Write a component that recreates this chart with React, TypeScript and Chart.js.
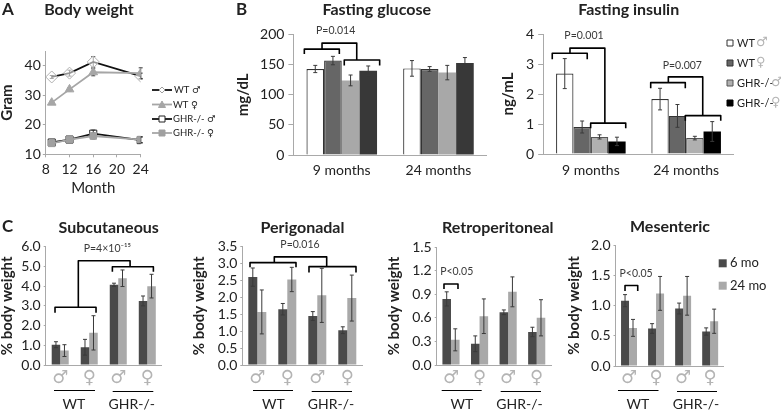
import React, { useEffect, useRef } from "react";
import { Chart, registerables } from "chart.js";

Chart.register(...registerables);

// ---------- data ----------
const months = [9, 12, 16, 24];
const wtMale = [36.2, 37.5, 41.3, 36.5];
const wtMaleErr = [0.5, 1, 1.8, 1];
const wtFemale = [27.5, 32, 37.8, 37.5];
const wtFemaleErr = [0.5, 0.5, 1.2, 1.8];
const ghrMale = [14, 15, 17, 14.8];
const ghrMaleErr = [0.5, 0.5, 1.2, 1];
const ghrFemale = [13.7, 15, 16.2, 15];
const ghrFemaleErr = [0.5, 0.8, 1, 1];

const fastingGroups = ["9 months", "24 months"];
const glucoseWtM = [143, 144];
const glucoseWtF = [157, 143];
const glucoseGhrM = [124, 137];
const glucoseGhrF = [140, 153];
const glucoseErrWtM = [6, 13];
const glucoseErrWtF = [7, 4];
const glucoseErrGhrM = [9, 12];
const glucoseErrGhrF = [8, 9];

const insulinWtM = [2.68, 1.83];
const insulinWtF = [0.9, 1.27];
const insulinGhrM = [0.57, 0.53];
const insulinGhrF = [0.42, 0.75];
const insulinErrWtM = [0.5, 0.36];
const insulinErrWtF = [0.2, 0.38];
const insulinErrGhrM = [0.07, 0.06];
const insulinErrGhrF = [0.14, 0.33];

const sexLabels = ["♂", "♀", "♂", "♀"];
const subQ6 = [1.03, 0.9, 4.07, 3.25];
const subQ24 = [0.73, 1.63, 4.4, 4.0];
const subQ6Err = [0.15, 0.4, 0.08, 0.25];
const subQ24Err = [0.3, 0.87, 0.42, 0.6];
const periG6 = [2.6, 1.65, 1.45, 1.03];
const periG24 = [1.57, 2.53, 2.06, 1.98];
const periG6Err = [0.27, 0.17, 0.13, 0.1];
const periG24Err = [0.65, 0.36, 0.8, 0.68];
const retro6 = [0.84, 0.27, 0.67, 0.42];
const retro24 = [0.32, 0.62, 0.93, 0.6];
const retro6Err = [0.09, 0.1, 0.03, 0.06];
const retro24Err = [0.14, 0.22, 0.19, 0.23];
const mes6 = [1.08, 0.62, 0.95, 0.57];
const mes24 = [0.63, 1.2, 1.16, 0.74];
const mes6Err = [0.1, 0.08, 0.09, 0.06];
const mes24Err = [0.14, 0.28, 0.32, 0.2];

// ---------- style helpers ----------
const SANS = "Lato, 'DejaVu Sans', sans-serif";
const GLYPH = "'DejaVu Sans', sans-serif";
const AXIS = "#a9a9a9";
const INK = "#222222";
const SOFT = "#3a3a3a";
const GREY_GLYPH = "#b4b4b4";

type Txt = { x: number; y: number; s: string; font: string; color?: string; align?: CanvasTextAlign };
// Bracket: category-fraction x0,x1; value yTop, left leg end, right leg end
type Bracket = [number, number, number, number, number];
// Data-anchored note: category fraction, value, string
type Note = [number, number, string];

const titleFont = `bold 16px ${SANS}`;
const letterFont = `bold 17px ${SANS}`;

function drawErrors(chart: any, p: any) {
  const ctx: CanvasRenderingContext2D = chart.ctx;
  const ys = chart.scales.y;
  ctx.save();
  ctx.strokeStyle = p.errColor || SOFT;
  ctx.lineWidth = 1;
  chart.data.datasets.forEach((ds: any, i: number) => {
    if (!ds.err) return;
    const cap = ds.errCap ?? 2;
    chart.getDatasetMeta(i).data.forEach((el: any, j: number) => {
      const v = p.line ? ds.data[j].y : ds.data[j];
      const top = ys.getPixelForValue(v + ds.err[j]);
      const bot = ys.getPixelForValue(v - ds.err[j]);
      ctx.beginPath();
      ctx.moveTo(el.x, top);
      ctx.lineTo(el.x, bot);
      ctx.moveTo(el.x - cap, top);
      ctx.lineTo(el.x + cap, top);
      ctx.moveTo(el.x - cap, bot);
      ctx.lineTo(el.x + cap, bot);
      ctx.stroke();
    });
  });
  ctx.restore();
}

function makeOverlay(p: any) {
  return {
    id: "overlay",
    beforeDatasetsDraw(chart: any) {
      if (p.line) drawErrors(chart, p);
    },
    afterDatasetsDraw(chart: any) {
      if (!p.line) drawErrors(chart, p);
      const ctx: CanvasRenderingContext2D = chart.ctx;
      const ys = chart.scales.y;
      const xs = chart.scales.x;
      ctx.save();
      const catX = (f: number) => xs.left + ((f + 0.5) * xs.width) / xs.ticks.length;
      // brackets
      ctx.strokeStyle = "#000";
      ctx.lineWidth = 1.6;
      ctx.lineJoin = "round";
      (p.brackets || []).forEach((b: Bracket) => {
        ctx.beginPath();
        ctx.moveTo(catX(b[0]), ys.getPixelForValue(b[3]));
        ctx.lineTo(catX(b[0]), ys.getPixelForValue(b[2]));
        ctx.lineTo(catX(b[1]), ys.getPixelForValue(b[2]));
        ctx.lineTo(catX(b[1]), ys.getPixelForValue(b[4]));
        ctx.stroke();
      });
      // significance notes
      ctx.textAlign = "center";
      ctx.textBaseline = "middle";
      ctx.fillStyle = SOFT;
      ctx.font = `10.5px ${SANS}`;
      (p.notes || []).forEach((n: Note) => {
        ctx.fillText(n[2], catX(n[0]), ys.getPixelForValue(n[1]));
      });
      // page-positioned text, rules and keys
      ctx.translate(-p.rect[0], -p.rect[1]);
      (p.texts || []).forEach((t: Txt) => {
        ctx.font = t.font;
        ctx.fillStyle = t.color || INK;
        ctx.textAlign = t.align || "center";
        ctx.fillText(t.s, t.x, t.y);
      });
      ctx.strokeStyle = "#000";
      ctx.lineWidth = 1;
      (p.rules || []).forEach((r: number[]) => {
        ctx.beginPath();
        ctx.moveTo(r[0], r[2]);
        ctx.lineTo(r[1], r[2]);
        ctx.stroke();
      });
      (p.swatches || []).forEach((s: any) => {
        ctx.fillStyle = s.fill;
        ctx.fillRect(s.x, s.y, s.size, s.size);
        if (s.stroke) {
          ctx.strokeStyle = s.stroke;
          ctx.lineWidth = 1;
          ctx.strokeRect(s.x, s.y, s.size, s.size);
        }
      });
      (p.lineKeys || []).forEach((k: any) => {
        ctx.strokeStyle = k.color;
        ctx.lineWidth = 1.8;
        ctx.beginPath();
        ctx.moveTo(k.x0, k.y);
        ctx.lineTo(k.x1, k.y);
        ctx.stroke();
        const cx = (k.x0 + k.x1) / 2;
        ctx.fillStyle = k.fill;
        ctx.strokeStyle = k.stroke;
        ctx.lineWidth = 1;
        ctx.beginPath();
        if (k.shape === "diamond") {
          ctx.moveTo(cx - 3, k.y); ctx.lineTo(cx, k.y - 3); ctx.lineTo(cx + 3, k.y); ctx.lineTo(cx, k.y + 3); ctx.closePath();
        } else if (k.shape === "triangle") {
          ctx.moveTo(cx - 3.5, k.y + 3); ctx.lineTo(cx, k.y - 3.5); ctx.lineTo(cx + 3.5, k.y + 3); ctx.closePath();
        } else {
          ctx.rect(cx - 3, k.y - 3, 6, 6);
        }
        ctx.fill();
        ctx.stroke();
      });
      ctx.restore();
    },
  };
}

function PanelChart({ p }: { p: any }) {
  const ref = useRef<HTMLCanvasElement>(null);
  useEffect(() => {
    const [rx, ry, rw, rh] = p.rect;
    const [l, t, r, b] = p.plot;
    const chart = new Chart(ref.current!, {
      type: p.line ? "line" : "bar",
      data: { labels: p.line ? undefined : p.labels, datasets: p.datasets },
      plugins: [makeOverlay(p)],
      options: {
        animation: false,
        responsive: false,
        layout: { padding: { left: 0, top: t - ry, right: rx + rw - r, bottom: 0 } },
        plugins: { legend: { display: false }, title: { display: false }, tooltip: { enabled: false } },
        scales: {
          x: {
            type: p.line ? "linear" : "category",
            min: p.line ? 8 : undefined,
            max: p.line ? 24 : undefined,
            grid: { drawOnChartArea: false, drawTicks: !!p.line, tickLength: 3, color: AXIS },
            border: { color: AXIS, width: 1 },
            ticks: {
              ...(p.line ? { stepSize: 4 } : {}),
              autoSkip: false,
              maxRotation: 0,
              padding: p.xPad ?? 5,
              color: p.xColor || INK,
              font: { family: p.xFamily || SANS, size: p.xSize || 14 },
            },
            title: p.xTitle
              ? { display: true, text: p.xTitle, color: INK, padding: 0, font: { family: SANS, size: 15, lineHeight: 1 } }
              : { display: false },
            afterFit: (s: any) => { s.height = ry + rh - b; },
          },
          y: {
            min: p.yMin,
            max: p.yMax,
            grid: { drawOnChartArea: false, drawTicks: true, tickLength: p.yTick ?? 5, color: AXIS },
            border: { color: AXIS, width: 1 },
            afterBuildTicks: (s: any) => {
              s.ticks = s.ticks.filter((k: any) => !p.yTicksMax || k.value <= p.yTicksMax);
            },
            ticks: {
              stepSize: p.yStep,
              autoSkip: false,
              padding: p.yPad ?? 4,
              color: INK,
              font: { family: SANS, size: 14 },
              callback: (v: any) => Number(v).toFixed(p.yDec || 0),
            },
            title: {
              display: true,
              text: p.yTitle,
              color: INK,
              padding: 0,
              font: { family: SANS, size: 15, weight: "bold", lineHeight: 1 },
            },
            afterFit: (s: any) => { s.width = l - rx; },
          },
        },
      } as any,
    });
    return () => chart.destroy();
  }, [p]);
  const [rx, ry, rw, rh] = p.rect;
  return (
    <canvas
      ref={ref}
      width={rw}
      height={rh}
      style={{ position: "absolute", left: rx, top: ry, width: rw, height: rh }}
    />
  );
}

const lineDs = (label: string, ys: number[], err: number[], color: string, style: string, radius: number, fill: string, edge: string, order: number) => ({
  label,
  data: months.map((m, i) => ({ x: m, y: ys[i] })),
  err,
  errCap: 2,
  order,
  borderColor: color,
  borderWidth: 1.8,
  pointStyle: style,
  pointRadius: radius,
  pointBackgroundColor: fill,
  pointBorderColor: edge,
  pointBorderWidth: 1,
  tension: 0,
});

const barDs = (label: string, data: number[], err: number[], fill: string, edge: string | null, cat: number) => ({
  label,
  data,
  err,
  backgroundColor: fill,
  borderColor: edge || fill,
  borderWidth: edge ? 1.2 : 0,
  barPercentage: 1,
  categoryPercentage: cat,
});

const ageBars = (six: number[], sixE: number[], old: number[], oldE: number[], cat: number) => [
  barDs("6 mo", six, sixE, "#4a4a4a", null, cat),
  barDs("24 mo", old, oldE, "#a9a9a9", null, cat),
];

const groupLabels = (cxWt: number, cxGhr: number): Txt[] => [
  { x: cxWt, y: 404, s: "WT", font: `14px ${SANS}` },
  { x: cxGhr, y: 404, s: "GHR-/-", font: `14px ${SANS}` },
];

const panels: any[] = [
  {
    line: true,
    rect: [0, 0, 225, 196],
    plot: [45.8, 51, 140.7, 154.3],
    yMin: 10, yMax: 45, yStep: 10, yTicksMax: 40, yTick: 3, yPad: 2,
    yTitle: "Gram", xTitle: "Month", xPad: 4,
    datasets: [
      lineDs("WT ♂", wtMale, wtMaleErr, "#111", "rectRot", 6, "rgba(255,255,255,0.55)", "#b0b0b0", 1),
      lineDs("WT ♀", wtFemale, wtFemaleErr, "#a6a6a6", "triangle", 5, "#a6a6a6", "#a6a6a6", 0),
      lineDs("GHR-/- ♂", ghrMale, ghrMaleErr, "#111", "rect", 5, "rgba(255,255,255,0)", "#222", 3),
      lineDs("GHR-/- ♀", ghrFemale, ghrFemaleErr, "#a6a6a6", "rect", 4.6, "#a0a0a0", "#a0a0a0", 2),
    ],
    texts: [
      { x: 2, y: 10, s: "A", font: letterFont, align: "left" },
      { x: 89, y: 10, s: "Body weight", font: titleFont },
      { x: 174, y: 90, s: "WT ♂", font: `9.5px ${SANS}`, align: "left" },
      { x: 173, y: 104.5, s: "WT ♀", font: `9.5px ${SANS}`, align: "left" },
      { x: 173, y: 119, s: "GHR-/- ♂", font: `9.5px ${SANS}`, align: "left" },
      { x: 173, y: 133, s: "GHR-/- ♀", font: `9.5px ${SANS}`, align: "left" },
    ],
    lineKeys: [
      { x0: 152, x1: 172, y: 90, color: "#111", fill: "#fff", stroke: "#a0a0a0", shape: "diamond" },
      { x0: 152, x1: 172, y: 104.5, color: "#a6a6a6", fill: "#a6a6a6", stroke: "#a6a6a6", shape: "triangle" },
      { x0: 152, x1: 172, y: 119, color: "#111", fill: "#fff", stroke: "#222", shape: "rect" },
      { x0: 152, x1: 172, y: 133, color: "#a6a6a6", fill: "#a0a0a0", stroke: "#a0a0a0", shape: "rect" },
    ],
  },
  {
    rect: [236, 0, 262, 200],
    plot: [293.4, 34.7, 486.8, 155],
    labels: fastingGroups, yMin: 0, yMax: 200, yStep: 50, yTitle: "mg/dL", xPad: 7, yPad: 4,
    datasets: [
      barDs("WT ♂", glucoseWtM, glucoseErrWtM, "#ffffff", "#333", 0.73),
      barDs("WT ♀", glucoseWtF, glucoseErrWtF, "#666666", "#333", 0.73),
      barDs("GHR-/- ♂", glucoseGhrM, glucoseErrGhrM, "#a8a8a8", null, 0.73),
      barDs("GHR-/- ♀", glucoseGhrF, glucoseErrGhrF, "#383838", null, 0.73),
    ],
    brackets: [
      [-0.387, -0.025, 176, 168, 168],
      [0.026, 0.392, 158, 149, 149],
      [-0.204, 0.155, 186, 176, 158],
    ],
    notes: [[-0.063, 206.6, "P=0.014"]],
    texts: [
      { x: 236, y: 10, s: "B", font: letterFont, align: "left" },
      { x: 376.7, y: 10, s: "Fasting glucose", font: titleFont },
    ],
  },
  {
    rect: [501, 0, 280, 200],
    plot: [543.2, 34, 733.8, 154],
    labels: fastingGroups, yMin: 0, yMax: 4, yStep: 1, yTitle: "ng/mL", xPad: 8, yPad: 4,
    datasets: [
      barDs("WT ♂", insulinWtM, insulinErrWtM, "#ffffff", "#333", 0.73),
      barDs("WT ♀", insulinWtF, insulinErrWtF, "#666666", "#333", 0.73),
      barDs("GHR-/- ♂", insulinGhrM, insulinErrGhrM, "#b0b0b0", "#555", 0.73),
      barDs("GHR-/- ♀", insulinGhrF, insulinErrGhrF, "#000000", null, 0.73),
    ],
    brackets: [
      [-0.405, -0.038, 3.36, 3.16, 3.16],
      [-0.002, 0.366, 1.03, 0.857, 0.857],
      [-0.219, 0.147, 3.53, 3.36, 1.03],
      [0.628, 0.991, 2.38, 2.19, 2.19],
      [0.991, 1.363, 1.28, 1.11, 1.11],
      [0.813, 1.174, 2.57, 2.38, 1.28],
    ],
    notes: [[-0.072, 3.94, "P=0.001"], [0.96, 2.93, "P=0.007"]],
    texts: [
      { x: 628.7, y: 10, s: "Fasting insulin", font: titleFont },
      { x: 737, y: 43, s: "WT", font: `11px ${SANS}`, align: "left" },
      { x: 737, y: 63, s: "WT", font: `11px ${SANS}`, align: "left" },
      { x: 737, y: 83, s: "GHR-/-", font: `11px ${SANS}`, align: "left" },
      { x: 737, y: 103, s: "GHR-/-", font: `11px ${SANS}`, align: "left" },
      { x: 756, y: 43, s: "♂", font: `13px ${GLYPH}`, color: GREY_GLYPH, align: "left" },
      { x: 756, y: 63, s: "♀", font: `13px ${GLYPH}`, color: GREY_GLYPH, align: "left" },
      { x: 771, y: 83, s: "♂", font: `13px ${GLYPH}`, color: GREY_GLYPH, align: "left" },
      { x: 771, y: 103, s: "♀", font: `13px ${GLYPH}`, color: GREY_GLYPH, align: "left" },
    ],
    swatches: [
      { x: 727, y: 40, size: 6, fill: "#fff", stroke: "#333" },
      { x: 727, y: 60, size: 6, fill: "#666666", stroke: "#333" },
      { x: 727, y: 80, size: 6, fill: "#b0b0b0", stroke: "#555" },
      { x: 727, y: 100, size: 6, fill: "#000", stroke: "#000" },
    ],
  },
  {
    rect: [0, 210, 190, 209],
    plot: [45.7, 246.7, 161.8, 365],
    labels: sexLabels, xColor: GREY_GLYPH, xFamily: GLYPH, xSize: 18, xPad: 3,
    yMin: 0, yMax: 6, yStep: 1, yDec: 1, yTitle: "% body weight", yTick: 2, yPad: 3,
    datasets: ageBars(subQ6, subQ6Err, subQ24, subQ24Err, 0.586),
    brackets: [
      [-0.179, 1.234, 2.93, 2.65, 2.65],
      [1.797, 3.21, 4.98, 4.73, 4.73],
      [0.624, 2.407, 5.29, 2.93, 4.98],
    ],
    notes: [[1.624, 5.92, "P=4×10⁻¹⁵"]],
    rules: [[54, 95, 390.5], [112.7, 153.3, 391.5]],
    texts: [
      { x: 2, y: 227, s: "C", font: letterFont, align: "left" },
      { x: 108.7, y: 228, s: "Subcutaneous", font: titleFont },
      ...groupLabels(74, 131.7),
    ],
  },
  {
    rect: [192, 210, 196, 209],
    plot: [242.3, 246.7, 362.3, 365],
    labels: sexLabels, xColor: GREY_GLYPH, xFamily: GLYPH, xSize: 18, xPad: 3,
    yMin: 0, yMax: 3.5, yStep: 0.5, yDec: 1, yTitle: "% body weight", yTick: 2, yPad: 3,
    datasets: ageBars(periG6, periG6Err, periG24, periG24Err, 0.6),
    brackets: [
      [-0.243, 1.29, 3.03, 2.89, 2.89],
      [1.723, 3.29, 2.91, 2.74, 2.74],
      [0.567, 2.313, 3.2, 3.03, 2.91],
    ],
    notes: [[1.423, 3.55, "P=0.016"]],
    rules: [[253, 293, 390.5], [311.7, 352, 391.5]],
    texts: [
      { x: 302.5, y: 228, s: "Perigonadal", font: titleFont },
      ...groupLabels(273.5, 331),
    ],
  },
  {
    rect: [387, 210, 180, 209],
    plot: [436.7, 247, 551, 365],
    labels: sexLabels, xColor: GREY_GLYPH, xFamily: GLYPH, xSize: 18, xPad: 3,
    yMin: 0, yMax: 1.5, yStep: 0.3, yDec: 1, yTitle: "% body weight", yTick: 2, yPad: 3,
    datasets: ageBars(retro6, retro6Err, retro24, retro24Err, 0.6),
    brackets: [[-0.245, 0.245, 1.03, 0.965, 0.965]],
    notes: [[0.2, 1.186, "P<0.05"]],
    rules: [[441.7, 481.7, 390.5], [500.7, 541, 391.5]],
    texts: [
      { x: 497.8, y: 228, s: "Retroperitoneal", font: titleFont },
      ...groupLabels(462, 519.5),
    ],
  },
  {
    rect: [567, 210, 214, 209],
    plot: [615.5, 245, 723.7, 366],
    labels: sexLabels, xColor: GREY_GLYPH, xFamily: GLYPH, xSize: 18, xPad: 2,
    yMin: 0, yMax: 2, yStep: 0.5, yDec: 1, yTitle: "% body weight", yTick: 2, yPad: 3,
    datasets: ageBars(mes6, mes6Err, mes24, mes24Err, 0.59),
    brackets: [[-0.148, 0.322, 1.33, 1.24, 1.24]],
    notes: [[0.26, 1.53, "P<0.05"]],
    rules: [[618, 658.5, 390.5], [677, 717, 391.5]],
    texts: [
      { x: 670, y: 227, s: "Mesenteric", font: titleFont },
      ...groupLabels(638, 696),
      { x: 730, y: 263.3, s: "6 mo", font: `13px ${SANS}`, align: "left" },
      { x: 730, y: 285.7, s: "24 mo", font: `13px ${SANS}`, align: "left" },
    ],
    swatches: [
      { x: 718.7, y: 259.3, size: 8, fill: "#4a4a4a" },
      { x: 718.7, y: 281.7, size: 8, fill: "#a9a9a9" },
    ],
  },
];

export default function App() {
  return (
    <div style={{ position: "fixed", left: 0, top: 0, width: 781, height: 419, background: "#fff", overflow: "hidden" }}>
      {panels.map((p, i) => (
        <PanelChart key={i} p={p} />
      ))}
    </div>
  );
}
